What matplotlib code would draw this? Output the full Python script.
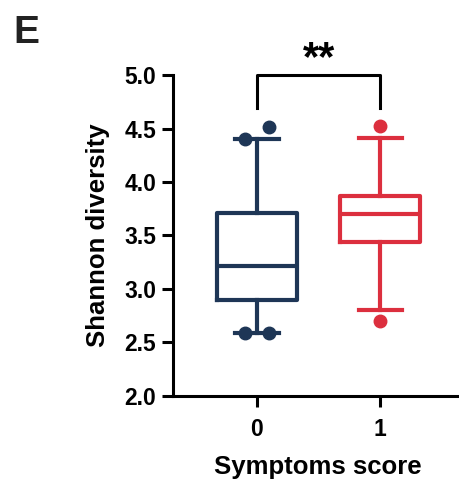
import matplotlib
matplotlib.use("Agg")
import matplotlib.pyplot as plt

plt.rcParams['font.family'] = ['Liberation Sans', 'DejaVu Sans']

# box stats
groups = ['0', '1']
q1 = [2.90, 3.44]
median = [3.215, 3.70]
q3 = [3.71, 3.87]
whislo = [2.59, 2.80]
whishi = [4.40, 4.41]
# outlying dots and their small sideways offsets
fliers = [[4.51, 4.40, 2.59, 2.59], [4.52, 2.70]]
flier_dx = [[0.10, -0.10, 0.10, -0.10], [0.0, 0.0]]
colors = ['#1e3656', '#dc2f3e']

fig = plt.figure(figsize=(4.6, 4.84), dpi=100)
ax = fig.add_axes([0.376, 0.182, 0.628, 0.663])

for i in range(len(groups)):
    c = colors[i]
    st = dict(q1=q1[i], med=median[i], q3=q3[i],
              whislo=whislo[i], whishi=whishi[i], fliers=[])
    ax.bxp([st], positions=[i], widths=0.65, showfliers=False,
           boxprops=dict(color=c, linewidth=3),
           medianprops=dict(color=c, linewidth=3),
           whiskerprops=dict(color=c, linewidth=3),
           capprops=dict(color=c, linewidth=3), capwidths=0.35)
    xs = [i + d for d in flier_dx[i]]
    ax.plot(xs, fliers[i], 'o', color=c, markersize=9, zorder=3)

# significance bracket
ax.plot([0, 0, 1, 1], [4.69, 5.0, 5.0, 4.69], color='black', linewidth=2.2,
        clip_on=False)
ax.text(0.5, 5.15, '**', ha='center', va='center', fontsize=30,
        fontweight='bold')

ax.set_xlim(-0.68, 1.66)
ax.set_ylim(2.0, 5.0)
ax.set_yticks([2.0, 2.5, 3.0, 3.5, 4.0, 4.5, 5.0])
ax.set_yticklabels(['2.0', '2.5', '3.0', '3.5', '4.0', '4.5', '5.0'])
ax.set_xticks([0, 1])
ax.set_xticklabels(groups)

for s in ['top', 'right']:
    ax.spines[s].set_visible(False)
for s in ['left', 'bottom']:
    ax.spines[s].set_linewidth(2.2)
ax.tick_params(axis='both', width=2.2, length=8, labelsize=16.5)
ax.tick_params(axis='y', pad=4)
ax.tick_params(axis='x', pad=8)
for lab in ax.get_xticklabels() + ax.get_yticklabels():
    lab.set_fontweight('bold')

ax.set_ylabel('Shannon diversity', fontsize=18.5, fontweight='bold', labelpad=10)
ax.set_xlabel('Symptoms score', fontsize=18.5, fontweight='bold', labelpad=10)

fig.text(0.03, 0.97, 'E', fontsize=28, fontweight='bold', color='#222222',
         va='top', ha='left')

fig.savefig('out.png', dpi=100)
